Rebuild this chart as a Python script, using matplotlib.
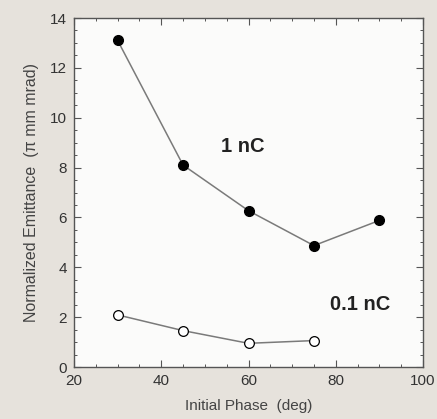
import numpy as np
import matplotlib
matplotlib.use("Agg")
from matplotlib import pyplot as plt
from matplotlib.ticker import MultipleLocator

# emittance vs. initial phase for two bunch charges
phase_1nc = [30, 45, 60, 75, 90]
emit_1nc = [13.1, 8.1, 6.27, 4.87, 5.88]

phase_01nc = [30, 45, 60, 75]
emit_01nc = [2.09, 1.46, 0.95, 1.06]

plt.rcParams["font.family"] = ["Liberation Sans", "DejaVu Sans"]

fig = plt.figure(figsize=(4.37, 4.19), dpi=100)
fig.patch.set_facecolor("#e6e2dc")
ax = fig.add_axes([74 / 437, 1 - 367 / 419, (423 - 74) / 437, (367 - 18) / 419])
ax.set_facecolor("#fbfbfa")

ax.plot(phase_1nc, emit_1nc, color="#7a7a7a", lw=1.1, zorder=2)
ax.plot(phase_1nc, emit_1nc, "o", color="black", ms=7, zorder=3)
ax.plot(phase_01nc, emit_01nc, color="#7a7a7a", lw=1.1, zorder=2)
ax.plot(phase_01nc, emit_01nc, "o", mfc="white", mec="black", mew=0.9, ms=7, zorder=3)

ax.set_xlim(20, 100)
ax.set_ylim(0, 14)
ax.xaxis.set_major_locator(MultipleLocator(20))
ax.xaxis.set_minor_locator(MultipleLocator(5))
ax.yaxis.set_major_locator(MultipleLocator(2))
ax.yaxis.set_minor_locator(MultipleLocator(0.5))
ax.tick_params(which="both", direction="in", top=True, right=True, colors="#555555",
               labelcolor="#333333", labelsize=11, pad=5)
ax.tick_params(which="major", length=5, width=0.8)
ax.tick_params(which="minor", length=2.5, width=0.7)
for s in ax.spines.values():
    s.set_color("#555555")
    s.set_linewidth(1.0)

ax.set_xlabel("Initial Phase  (deg)", fontsize=11, color="#444444", labelpad=8)
ax.set_ylabel("Normalized Emittance  (\u03c0 mm mrad)", fontsize=11.5, color="#444444", labelpad=8)

ax.text(53.8, 8.85, "1 nC", fontsize=14.5, fontweight="bold", color="#222222",
        ha="left", va="center")
ax.text(78.6, 2.5, "0.1 nC", fontsize=14.5, fontweight="bold", color="#222222",
        ha="left", va="center")

plt.savefig("out.png", dpi=100, facecolor=fig.get_facecolor())
plt.close()
